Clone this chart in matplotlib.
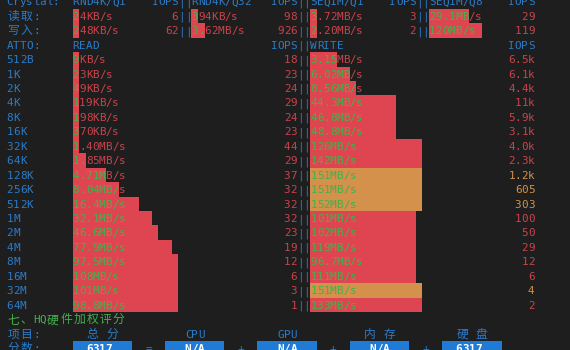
import unicodedata
import numpy as np
import matplotlib
matplotlib.use("Agg")
import matplotlib.pyplot as plt

# ---- data (speeds in KB/s) ----
crystal_tests = ["RND4K/Q1", "RND4K/Q32", "SEQ1M/Q1", "SEQ1M/Q8"]
crystal_read = [24, 394, 3720, 29100]
crystal_read_iops = [6, 98, 3, 29]
crystal_write = [248, 3620, 2200, 120000]
crystal_write_iops = [62, 926, 2, 119]
crystal_ref = [1000, 1000, 2000, 500]   # speed that gives an empty bar, per test

atto_sizes = ["512B", "1K", "2K", "4K", "8K", "16K", "32K", "64K", "128K",
              "256K", "512K", "1M", "2M", "4M", "8M", "16M", "32M", "64M"]
atto_read = [9, 23, 49, 119, 198, 370, 1400, 1850, 4710, 8040, 16400, 32100,
             46600, 77900, 97500, 108000, 101000, 98800]
atto_read_iops = [18, 23, 24, 29, 24, 23, 44, 29, 37, 32, 32, 32, 23, 19, 12, 6, 3, 1]
atto_write = [3150, 6020, 8560, 44300, 46800, 48800, 126000, 142000, 151000,
              151000, 152000, 101000, 102000, 119000, 96700, 111000, 151000, 133000]
atto_write_iops = [6500, 6100, 4400, 11000, 5900, 3100, 4000, 2300, 1200, 605,
                   303, 100, 50, 29, 12, 6, 4, 2]

score_items = ["总 分", "CPU", "GPU", "内 存", "硬 盘"]
score_values = ["6317", "N/A", "N/A", "N/A", "6317"]

# ---- terminal look ----
BG = "#1e1e1e"
BLUE = "#2c7bc8"
RED = "#c9434c"
GREEN = "#44b04c"
BAR_RED = "#df4550"
BAR_ORANGE = "#d3914b"
BOX = "#1f7bd6"
CW, RH = 6.6, 14.45          # cell size in pixels
FS = 7.9

fig = plt.figure(figsize=(5.7, 3.5), dpi=100)
fig.patch.set_facecolor(BG)
ax = fig.add_axes([0, 0, 1, 1])
ax.set_facecolor(BG)
ax.set_xlim(0, 570 / CW)
ax.set_ylim((350 - 1.5) / RH, -1.5 / RH)
ax.axis("off")


def put(col, row, s, color, weight="normal"):
    """write a string into the character grid, CJK takes two cells"""
    for ch in s:
        w = 2 if unicodedata.east_asian_width(ch) in "WF" else 1
        if ch != " ":
            if w == 2:
                fam = ["Noto Sans CJK SC", "DejaVu Sans"]
                size = FS + 0.6
            else:
                fam = ["DejaVu Sans Mono"]
                size = FS
            ax.text(col + w / 2, row + 0.26, ch, color=color, fontsize=size,
                    family=fam, ha="center", va="baseline", fontweight=weight)
        col += w


def put_right(end_col, row, s, color):
    put(end_col - len(s) + 1, row, s, color)


def speed_str(kbs):
    if kbs < 1000:
        return "%dKB/s" % kbs
    mb = kbs / 1000
    if mb < 10:
        return "%.2fMB/s" % mb
    if mb < 100:
        return "%.1fMB/s" % mb
    return "%dMB/s" % round(mb)


def iops_str(v):
    if v >= 10000:
        return "%dk" % round(v / 1000)
    if v >= 1000:
        return "%.1fk" % (v / 1000)
    return str(v)


def atto_cells(kbs):
    # log scale of the ATTO bars, about 3.4 cells per e-fold of MB/s
    mb = np.asarray(kbs, dtype=float) / 1000
    return np.maximum(1, np.round(3.4 * np.log(mb) + 0.18))


def crystal_cells(kbs, ref):
    # one cell per doubling above the test's reference speed
    return np.maximum(1, np.round(np.log2(np.asarray(kbs, dtype=float) / np.asarray(ref))))


def speed_text(col, row, kbs, cells):
    s = speed_str(kbs)
    for i, ch in enumerate(s):
        put(col + i, row, ch, GREEN if i < cells else RED)


# ---- Crystal block ----
put(1, 0, "Crystal:", BLUE)
put(1, 1, "读取:", BLUE)
put(1, 2, "写入:", BLUE)
rc = crystal_cells(crystal_read, crystal_ref)
wc = crystal_cells(crystal_write, crystal_ref)
starts = [11 + 18 * j for j in range(len(crystal_tests))]
ax.barh([1] * 4, rc, left=starts, height=1.0, color=BAR_RED, linewidth=0)
ax.barh([2] * 4, wc, left=starts, height=1.0, color=BAR_RED, linewidth=0)
for j, name in enumerate(crystal_tests):
    c0 = starts[j]
    put(c0, 0, name, BLUE)
    put_right(c0 + 15, 0, "IOPS", BLUE)
    speed_text(c0, 1, crystal_read[j], rc[j])
    speed_text(c0, 2, crystal_write[j], wc[j])
    put_right(c0 + 15, 1, iops_str(crystal_read_iops[j]), RED)
    put_right(c0 + 15, 2, iops_str(crystal_write_iops[j]), RED)
    if j < len(crystal_tests) - 1:
        for r in range(3):
            put(c0 + 16, r, "||", BLUE)

# ---- ATTO block ----
put(1, 3, "ATTO:", BLUE)
put(11, 3, "READ", BLUE)
put_right(44, 3, "IOPS", BLUE)
put(45, 3, "||", BLUE)
put(47, 3, "WRITE", BLUE)
put_right(80, 3, "IOPS", BLUE)

rows = np.arange(len(atto_sizes)) + 4
r_cells = atto_cells(atto_read)
w_cells = atto_cells(atto_write)
r_col = [BAR_ORANGE if v >= 150000 else BAR_RED for v in atto_read]
w_col = [BAR_ORANGE if v >= 150000 else BAR_RED for v in atto_write]
ax.barh(rows, r_cells, left=11, height=1.0, color=r_col, linewidth=0)
ax.barh(rows, w_cells, left=47, height=1.0, color=w_col, linewidth=0)
for i, size in enumerate(atto_sizes):
    r = rows[i]
    put(1, r, size, BLUE)
    speed_text(11, r, atto_read[i], r_cells[i])
    put_right(44, r, iops_str(atto_read_iops[i]),
              BAR_ORANGE if r_col[i] == BAR_ORANGE else RED)
    put(45, r, "||", BLUE)
    speed_text(47, r, atto_write[i], w_cells[i])
    put_right(80, r, iops_str(atto_write_iops[i]),
              BAR_ORANGE if w_col[i] == BAR_ORANGE else RED)

# ---- score block ----
put(1, 22, "七、HQ硬件加权评分", GREEN)
put(1, 23, "项目:", BLUE)
put(1, 24, "分数:", BLUE)
box_left = [11 + 14 * i for i in range(len(score_items))]
ax.barh([24] * len(score_items), 9, left=box_left, height=1.0, color=BOX, linewidth=0)
for i, item in enumerate(score_items):
    c0 = box_left[i]
    width = sum(2 if unicodedata.east_asian_width(ch) in "WF" else 1 for ch in item)
    put(c0 + (9 - width) // 2, 23, item, BLUE)
    put(c0 + (9 - len(score_values[i])) // 2, 24, score_values[i], "white", weight="bold")
    if i < len(score_items) - 1:
        put(c0 + 11, 24, "=" if i == 0 else "+", BLUE)

fig.savefig("out.png", dpi=100, facecolor=BG)
